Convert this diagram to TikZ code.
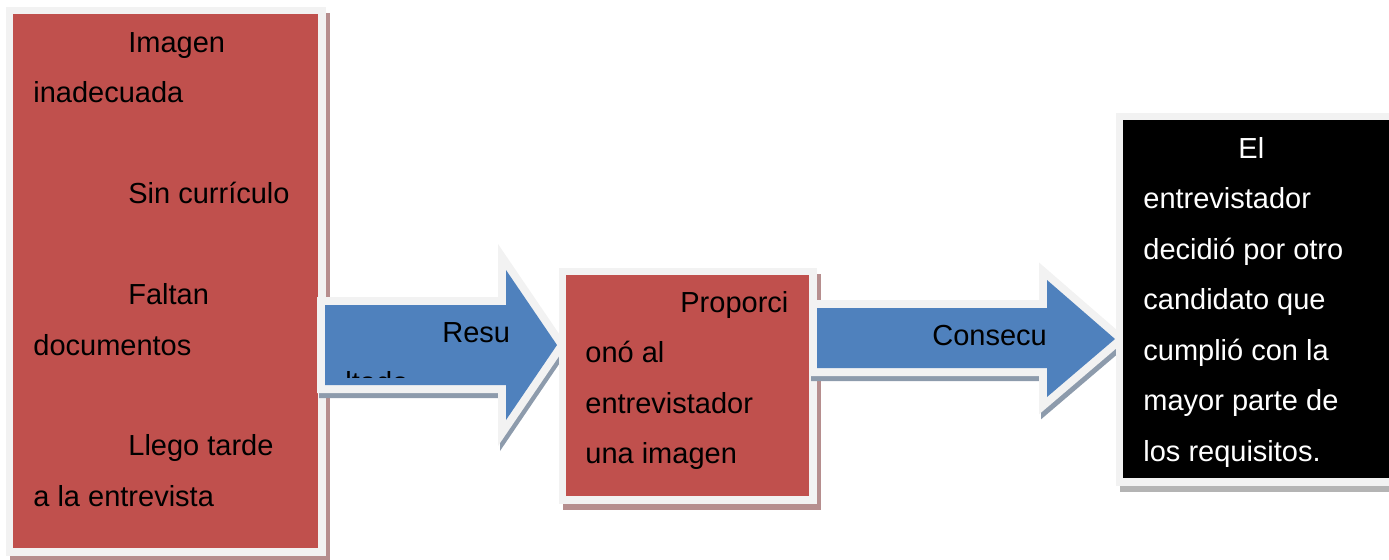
\documentclass[tikz,border=0pt]{standalone}
\usepackage{fontspec}
\setmainfont{Liberation Sans}
\usepackage{tikz}
\usetikzlibrary{calc}

\definecolor{cajaroja}{RGB}{192,80,77}
\definecolor{azul}{RGB}{79,129,189}
\definecolor{marco}{RGB}{242,242,242}
\definecolor{sombraroja}{RGB}{182,142,142}
\definecolor{sombraazul}{RGB}{141,155,172}
\definecolor{sombragris}{RGB}{180,180,180}

\tikzset{
  caja/.style={rectangle, inner sep=0pt, line join=miter,
    preaction={fill=#1, draw=#1, line width=7.5pt, transform canvas={xshift=2pt,yshift=-3pt}},
    preaction={draw=marco, line width=7.5pt}},
  flecha/.style={fill=azul, line join=miter,
    preaction={fill=sombraazul, draw=sombraazul, line width=8pt, transform canvas={xshift=1pt,yshift=-2.5pt}},
    preaction={draw=marco, line width=8pt}},
  linea/.style={anchor=base west, inner sep=0pt, font=\fontsize{14.5pt}{17pt}\selectfont},
}

\begin{document}
\begin{tikzpicture}[line cap=butt, x=0.5pt, y=-0.5pt]
\useasboundingbox (0,0) rectangle (1389,559);
\clip (0,0) rectangle (1389,559);
% causas
\node [caja=sombraroja, fill=cajaroja, minimum width=152.5pt, minimum height=267pt] (causas) at (165.5,281) {};
\node [linea] (imagen) at (128,52) {Imagen};
\node [linea] (inadecuada) at (33,102.5) {inadecuada};
\node [linea] (sincv) at (128,203.5) {Sin currículo};
\node [linea] (faltan) at (128,304.5) {Faltan};
\node [linea] (documentos) at (33,355) {documentos};
\node [linea] (llego) at (128,455.5) {Llego tarde};
\node [linea] (entrevista) at (33,506) {a la entrevista};
% flecha 1
\path [flecha] (325,305) -- (506,305) -- (506,270) -- (557,345) -- (506,420) -- (506,385) -- (325,385) -- cycle;
\node [linea] (resu) at (442,342) {Resu};
\begin{scope}
\clip (325,305) rectangle (506,377);
\node [linea] (ltado) at (345,392.5) {ltado};
\end{scope}
% resultado
\node [caja=sombraroja, fill=cajaroja, minimum width=121.5pt, minimum height=110.5pt] (resultado) at (687.5,385.5) {};
\node [linea] (proporci) at (680,312) {Proporci};
\node [linea] (ono) at (585,362.5) {onó al};
\node [linea] (entrevistador) at (585,413) {entrevistador};
\node [linea] (imagen2) at (585,463.5) {una imagen};
% flecha 2
\path [flecha] (817,308) -- (1047,308) -- (1047,280) -- (1115,339) -- (1047,397) -- (1047,368) -- (817,368) -- cycle;
\node [linea] (consecu) at (932,345) {Consecu};
% consecuencia
\node [caja=sombragris, fill=black, minimum width=138.5pt, minimum height=179pt] (consecuencia) at (1261.5,299) {};
\begin{scope}[every node/.style={linea, text=white}]
\node (el) at (1238,158) {El};
\node (entrev) at (1143,208.5) {entrevistador};
\node (decidio) at (1143,259) {decidió por otro};
\node (candidato) at (1143,309.5) {candidato que};
\node (cumplio) at (1143,360) {cumplió con la};
\node (mayor) at (1143,410.5) {mayor parte de};
\node (requisitos) at (1143,461) {los requisitos.};
\end{scope}
\end{tikzpicture}
\end{document}
